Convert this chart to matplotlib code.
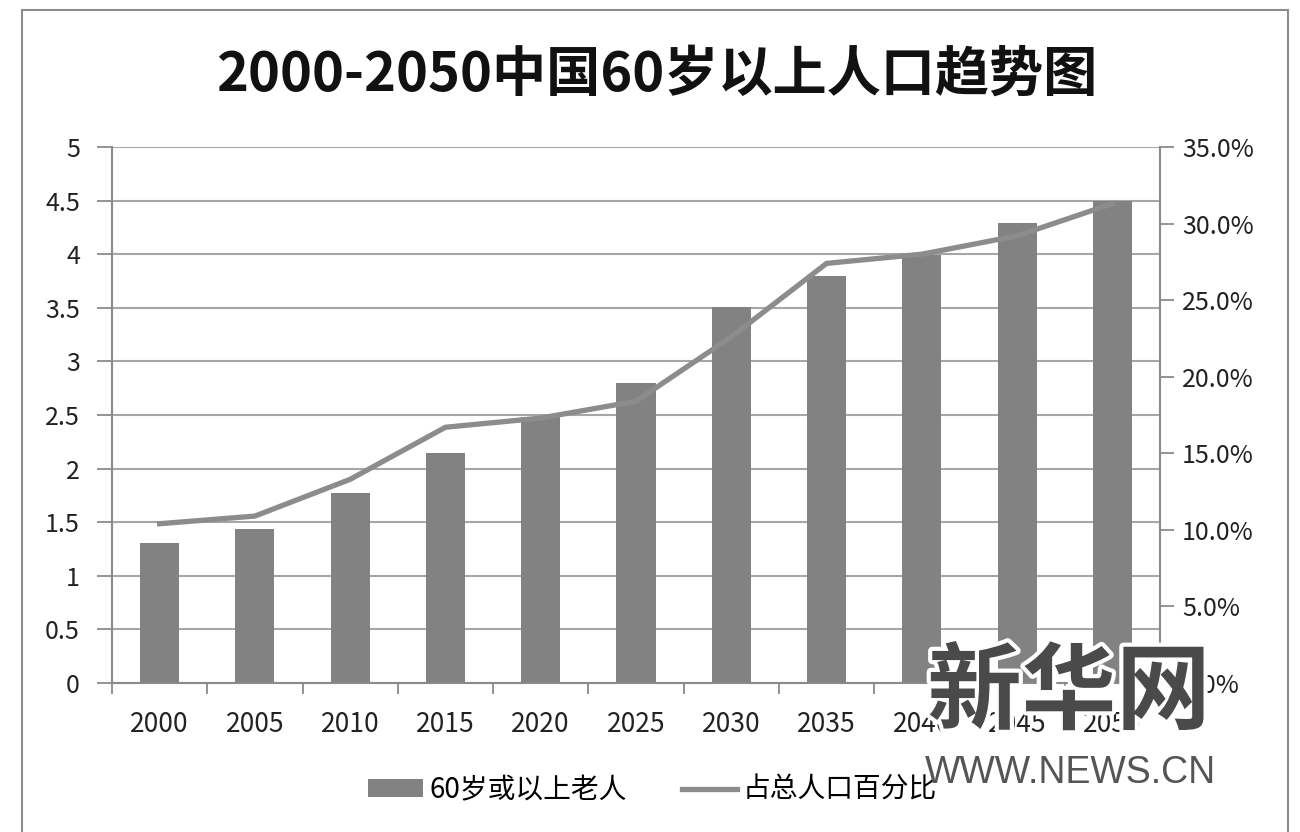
import numpy as np
import matplotlib.pyplot as plt
import matplotlib.patheffects as pe
from matplotlib.patches import Rectangle
from matplotlib.ticker import FuncFormatter

plt.rcParams['font.family'] = ['Noto Sans CJK SC', 'DejaVu Sans']

years = ['2000', '2005', '2010', '2015', '2020', '2025', '2030', '2035', '2040', '2045', '2050']
elderly = [1.31, 1.44, 1.77, 2.15, 2.48, 2.80, 3.51, 3.80, 3.99, 4.29, 4.50]   # 亿人
share = [10.4, 10.9, 13.3, 16.7, 17.3, 18.4, 22.6, 27.4, 28.0, 29.2, 31.3]      # %

bar_label = '60岁或以上老人'
line_label = '占总人口百分比'
title = '2000-2050中国60岁以上人口趋势图'

grey = '#8a8a8a'
fig = plt.figure(figsize=(13, 8.32), dpi=100)
ax = fig.add_axes([112/1300, 1-683/832, (1160-112)/1300, (683-147)/832])

x = np.arange(len(years))
ax.bar(x, elderly, width=0.41, color='#828282', label=bar_label, zorder=2)
ax.set_xlim(-0.5, len(years)-0.5)
ax.set_ylim(0, 5)
ax.set_yticks(np.arange(0, 5.01, 0.5))
ax.set_yticklabels(['0', '0.5', '1', '1.5', '2', '2.5', '3', '3.5', '4', '4.5', '5'])
ax.yaxis.grid(True, color='#a6a6a6', linewidth=1.5, zorder=0)
ax.set_axisbelow(True)

# category boundaries get the tick marks, centres get the labels
ax.set_xticks(np.arange(-0.5, len(years), 1.0))
ax.set_xticklabels([])
ax.set_xticks(x, minor=True)
ax.set_xticklabels(years, minor=True)
ax.tick_params(axis='x', which='major', length=8, width=1.3, color=grey)
ax.tick_params(axis='x', which='minor', length=0, pad=20, labelsize=19, labelcolor='#222222')
ax.tick_params(axis='y', length=11, width=1.3, color=grey, pad=12, labelsize=18, labelcolor='#222222')

for s in ['top', 'right']:
    ax.spines[s].set_visible(False)
for s in ['left', 'bottom']:
    ax.spines[s].set_color(grey)
    ax.spines[s].set_linewidth(1.5)

ax2 = ax.twinx()
ax2.plot(x, share, color='#8c8c8c', linewidth=3.8, label=line_label, zorder=3,
         solid_joinstyle='miter')
ax2.set_ylim(0, 35)
ax2.set_yticks(np.arange(0, 35.1, 5))
ax2.yaxis.set_major_formatter(FuncFormatter(lambda v, p: f'{v:.1f}%'))
ax2.tick_params(axis='y', length=10, width=1.3, color=grey, pad=6, labelsize=18, labelcolor='#222222')
for s in ['top', 'left', 'bottom']:
    ax2.spines[s].set_visible(False)
ax2.spines['right'].set_color(grey)
ax2.spines['right'].set_linewidth(1.5)

fig.text(0.505, 0.910, title, ha='center', va='center', fontsize=39, fontweight='bold', color='#111111')

h1, l1 = ax.get_legend_handles_labels()
h2, l2 = ax2.get_legend_handles_labels()
fig.legend(h1 + h2, l1 + l2, loc='center', bbox_to_anchor=(0.502, 1-790/832), ncol=2,
           frameon=False, fontsize=20, handlelength=2.0, handleheight=0.6,
           columnspacing=2.0, handletextpad=0.2)

# outer frame of the chart
fig.patches.append(Rectangle((22/1300, -0.02), (1288-22)/1300, 1.02-10/832,
                             transform=fig.transFigure, fill=False,
                             edgecolor='#8c8c8c', linewidth=1.5))

# watermark
fig.text(1069/1300, 1-694/832, '新华网', ha='center', va='center', fontsize=68,
         fontweight='heavy', color='#4a4a4a', zorder=10,
         path_effects=[pe.withStroke(linewidth=6, foreground='white')])
fig.text(1070/1300, 1-773/832, 'WWW.NEWS.CN', ha='center', va='center', fontsize=27,
         family='Liberation Sans', color='#555555', zorder=10)

fig.savefig('out.png', dpi=100)
